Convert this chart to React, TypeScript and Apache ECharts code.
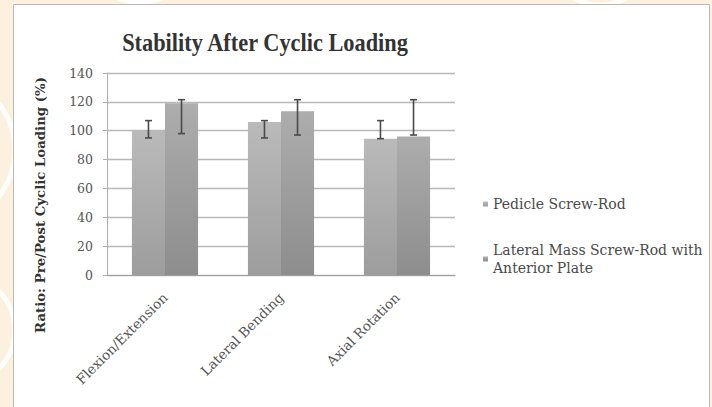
import React, { useEffect, useRef } from 'react';
import * as echarts from 'echarts';

const categories = ['Flexion/Extension', 'Lateral Bending', 'Axial Rotation'];
const seriesNames = ['Pedicle Screw-Rod', 'Lateral Mass Screw-Rod with Anterior Plate'];
const pedicleValues = [100, 106, 94.5];
const lateralMassValues = [119, 113.5, 96];
const pedicleErrLow = [95, 95, 94.5];
const pedicleErrHigh = [107, 107, 107];
const lateralErrLow = [98, 97, 97];
const lateralErrHigh = [121.5, 121.5, 121.5];
const yMin = 0;
const yMax = 140;
const yInterval = 20;

const CAT_GAP = 0.43;
const SERIF = "'DejaVu Serif', 'Liberation Serif', serif";

function makeErr(side: number) {
  return (params: any, api: any) => {
    const i = api.value(0);
    const lo = api.coord([i, api.value(1)]);
    const hi = api.coord([i, api.value(2)]);
    const band = api.size([1, 0])[0];
    const barW = (band * (1 - CAT_GAP)) / 2;
    const x = lo[0] + (side * barW) / 2;
    const cap = 3.5;
    const style = { stroke: '#4a4a4a', lineWidth: 1.6 };
    return {
      type: 'group',
      children: [
        { type: 'line', shape: { x1: x, y1: lo[1], x2: x, y2: hi[1] }, style },
        { type: 'line', shape: { x1: x - cap, y1: hi[1], x2: x + cap, y2: hi[1] }, style },
        { type: 'line', shape: { x1: x - cap, y1: lo[1], x2: x + cap, y2: lo[1] }, style },
      ],
    };
  };
}

function grad(top: string, bottom: string) {
  return new echarts.graphic.LinearGradient(0, 0, 0, 1, [
    { offset: 0, color: top },
    { offset: 1, color: bottom },
  ]);
}

export default function App() {
  const ref = useRef<HTMLDivElement>(null);
  useEffect(() => {
    if (!ref.current) return;
    const chart = echarts.init(ref.current, null, { renderer: 'svg' });
    const swirl = { stroke: '#ffffff', lineWidth: 5, fill: 'none', opacity: 0.9 };
    chart.setOption({
      animation: false,
      backgroundColor: '#fcf1df',
      graphic: [
        { type: 'arc', z: -10, shape: { cx: -60, cy: 150, r: 75, startAngle: -1.2, endAngle: 1.2 }, style: swirl },
        { type: 'arc', z: -10, shape: { cx: -40, cy: 330, r: 55, startAngle: -1.3, endAngle: 1.3 }, style: swirl },
        { type: 'arc', z: -10, shape: { cx: 140, cy: -60, r: 62, startAngle: 0.3, endAngle: 2.8 }, style: swirl },
        { type: 'arc', z: -10, shape: { cx: 600, cy: -50, r: 55, startAngle: 0.3, endAngle: 2.8 }, style: swirl },
        {
          type: 'rect',
          z: -5,
          shape: { x: 13.5, y: 4.5, width: 696, height: 410 },
          style: { fill: '#ffffff', stroke: '#b9b9b9', lineWidth: 1 },
        },
        {
          type: 'text',
          x: 265,
          y: 42,
          scaleX: 0.86,
          style: {
            text: 'Stability After Cyclic Loading',
            fontFamily: "'Liberation Serif', serif",
            fontWeight: 'bold',
            fontSize: 26,
            fill: '#333333',
            align: 'center',
            verticalAlign: 'middle',
          },
        },
      ],
      grid: { left: 107, right: 257, top: 73, bottom: 132 },
      legend: {
        orient: 'vertical',
        left: 478,
        top: 190,
        itemWidth: 5,
        itemHeight: 5,
        itemGap: 19,
        icon: 'rect',
        formatter: (name: string) =>
          name === seriesNames[1] ? 'Lateral Mass Screw-Rod with\nAnterior Plate' : name,
        textStyle: { fontFamily: SERIF, fontSize: 14, color: '#4a4a4a', lineHeight: 18 },
        data: [
          { name: seriesNames[0] },
          { name: seriesNames[1], textStyle: { padding: [18, 0, 0, 0] } },
        ],
      },
      xAxis: {
        type: 'category',
        data: categories,
        axisLine: { lineStyle: { color: '#a0a0a0', width: 1 } },
        axisTick: { length: 4, lineStyle: { color: '#a0a0a0' } },
        axisLabel: {
          rotate: 45,
          margin: 20,
          fontFamily: SERIF,
          fontSize: 13.5,
          color: '#555555',
        },
      },
      yAxis: {
        type: 'value',
        min: yMin,
        max: yMax,
        interval: yInterval,
        name: 'Ratio: Pre/Post Cyclic Loading (%)',
        nameLocation: 'middle',
        nameGap: 60,
        nameTextStyle: {
          fontFamily: SERIF,
          fontWeight: 'bold',
          fontSize: 13.3,
          color: '#333333',
          padding: [0, 62, 0, 0],
        },
        axisLine: { show: true, lineStyle: { color: '#b0b0b0' } },
        axisTick: { show: true, length: 4, lineStyle: { color: '#b0b0b0' } },
        axisLabel: { margin: 14, fontFamily: SERIF, fontSize: 12.5, color: '#555555' },
        splitLine: { lineStyle: { color: '#b8b8b8', width: 1.3 } },
      },
      series: [
        {
          name: seriesNames[0],
          type: 'bar',
          data: pedicleValues,
          barGap: '0%',
          barCategoryGap: CAT_GAP * 100 + '%',
          itemStyle: { color: grad('#bababa', '#9d9d9d') },
        },
        {
          name: seriesNames[1],
          type: 'bar',
          data: lateralMassValues,
          barGap: '0%',
          barCategoryGap: CAT_GAP * 100 + '%',
          itemStyle: { color: grad('#adadad', '#8d8d8d') },
        },
        {
          type: 'custom',
          z: 5,
          silent: true,
          renderItem: makeErr(-1),
          encode: { x: 0, y: [1, 2] },
          data: categories.map((_, i) => [i, pedicleErrLow[i], pedicleErrHigh[i]]),
        },
        {
          type: 'custom',
          z: 5,
          silent: true,
          renderItem: makeErr(1),
          encode: { x: 0, y: [1, 2] },
          data: categories.map((_, i) => [i, lateralErrLow[i], lateralErrHigh[i]]),
        },
      ],
    });
    return () => chart.dispose();
  }, []);
  return (
    <div
      ref={ref}
      style={{ position: 'absolute', left: 0, top: 0, width: 712, height: 407 }}
    />
  );
}
